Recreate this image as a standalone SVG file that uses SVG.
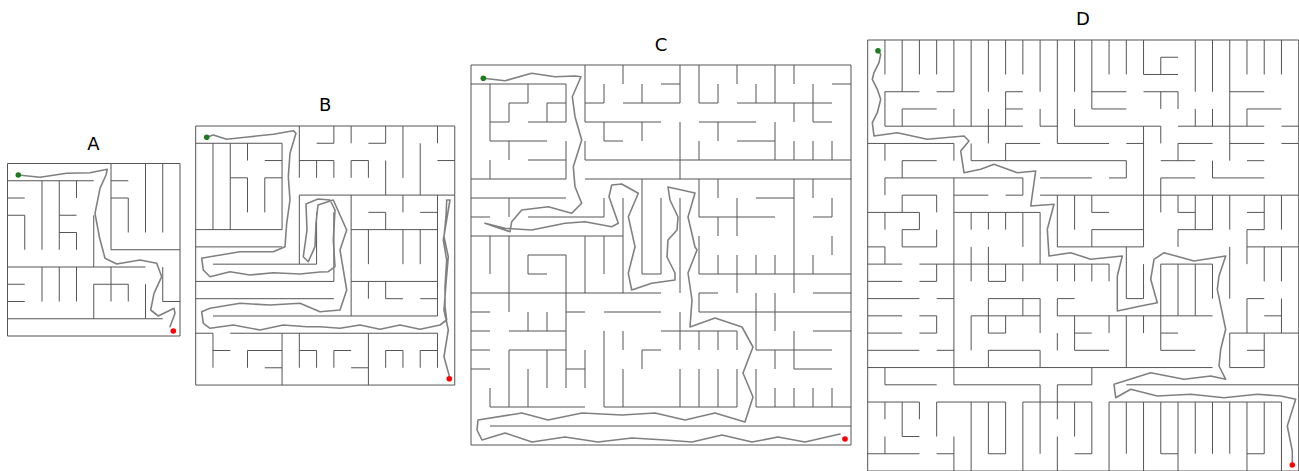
<svg xmlns="http://www.w3.org/2000/svg" width="1299" height="471" viewBox="0 0 1299 471">
<style>
.wall{fill:none;stroke:#555;stroke-width:1;vector-effect:non-scaling-stroke}
.sol{fill:none;stroke:#808080;stroke-width:1.6;stroke-linejoin:round;stroke-linecap:round}
.start{fill:#1e7b1e}
.goal{fill:#ff0000}
.lbl{font-family:"DejaVu Sans","Liberation Sans",sans-serif;font-size:18px;fill:#000;text-anchor:middle}
</style>
<rect width="1299" height="471" fill="#fff"/>
<g id="maze-A">
<text class="lbl" x="93.5" y="149.5">A</text>
<g transform="translate(7.5,163.5) scale(17.25)">
<rect class="wall" x="0" y="0" width="10" height="10"/>
<path class="wall" d="M0 1H5M6 1H7M6 0V5H10M8 0V4M9 0V4M6 2H7M7 2V4M0 2H1M0 3H1V5M2 1V5M3 1V5M3 3H4M3 4H4V5M4 1V2M5 3V6M0 6H8M9 6V8H10M0 7H1M0 8H1M2 6V8M3 6V8M4 6V8M5 7V9M5 7H6M6 6V8M6 7H7V8M8 7V9M0 9H9"/>
</g>
<polyline class="sol" points="18.3,175 40,177.3 66.7,173.3 90,172.7 100,170.7 107.3,169.3 106,175 100,188.3 95,213.3 99.3,236.7 105,258.3 116.7,264 140,260 156.7,263.3 161.7,276.7 154,293.3 150.7,310 158.3,316 174,308.3 175,313.3 170,326.7"/>
<circle class="start" cx="18.3" cy="175" r="2.8"/>
<circle class="goal" cx="173.3" cy="331" r="2.8"/>
</g>
<g id="maze-B">
<text class="lbl" x="325.3" y="110.5">B</text>
<g transform="translate(195.7,126) scale(17.27)">
<rect class="wall" x="0" y="0" width="15" height="15"/>
<path class="wall" d="M6 0V3M0 1H5M5 1V6H0M1 1V6M2 1V6M3 1V2M4 2H5M2 3H3V5M4 3H5M4 3V5M0 7H5M6 4V8M1 8H7M6 4H15M7 5V8M8 5V9M0 9H8M0 10H8M1 11H14M0 12H1V14M2 12H14M1 13H2M3 13H5M3 13V14M4 14H5M5 12V15M6 12V14M6 13H7M7 13V14M8 13H9M8 13V14M9 14H10M10 12V15M11 13V14M11 13H12M12 13V14M13 13H14M13 13V14M14 12V14M9 4V11M14 4V11M10 5H11M11 5V6M12 4V5M13 5H14M9 6H14M10 6V8M12 6V8M13 6V8M9 9H14M10 9V10M11 9V10M11 10H12M13 10H14M8 0V1M7 1H8M9 0V1M10 1H11M11 0V1M11 2V4M12 0V3M13 1V4M14 0V1M14 2H15M6 2H8M7 2V3M8 2V3M9 2H10M9 2V3M10 2V3"/>
</g>
<polyline class="sol" points="206.7,137.3 213.3,135 226.7,139.3 250,136.7 273.3,134.3 293.3,130.7 296,133.3 290,153.3 288.3,176.7 290,200 286.7,223.3 285,246.7 273.3,251.7 240,251.7 210,256.7 201.7,258.3 203.3,270 210,276.7 230,271.7 250,275 273.3,272.7 300,274 320,272 328.3,271.7 335,266.7 333.3,240 335,210 330,200 318,199 306,204 307,230 303.3,256.7 308.3,261.7 315,246.7 316,223 318,205 333.3,200 346.7,230 340,250 346.7,290 340,310 320,311.7 300,303.3 270,305 240,303.3 210,308.3 201.7,311.7 203.3,323.3 210,328.3 233.3,325 260,330 283.3,325 306.7,326.7 320,326.7 340,328.3 360,325 380,329.3 400,325 420,329.3 440,325 446.7,320 445,306.7 445,286.7 446.7,260 443.3,240 448.3,210 450,200 446.7,200 446,216.7 444,236.7 448.3,256.7 446,283.3 444,310 448.3,330 444,356.7 449.3,376"/>
<circle class="start" cx="206.7" cy="137.3" r="2.8"/>
<circle class="goal" cx="449.3" cy="378.7" r="2.8"/>
</g>
<g id="maze-C">
<text class="lbl" x="661" y="50.5">C</text>
<g transform="translate(471,65) scale(19)">
<rect class="wall" x="0" y="0" width="20" height="20"/>
<path class="wall" d="M0 1H5M5 1V3H3M5 4V6H0M1 1V4H4M1 5V6M3 1V2M2 2H3M2 2V3H1M4 2V3M4 2H5M2 4V5M3 5H5M6 0V3H10M6 2H7M7 1V2M8 0V1M8 2H10M9 1V2M7 3V4H8M9 3V4M6 4V5M6 5H20M11 0V2M10 1H11M10 2H11M12 0V2H13M13 1V2M14 0V1M15 1V2M16 0V2M14 2H19M17 0V1M17 2V3M19 1H20M18 1V3M12 3H15M18 3H19M11 3V6M12 4V5M13 3V4M14 4H16M16 3V5M17 4V5M18 4V5M19 4V5M6 6H20M0 7H5M2 7V8M0 8H1M3 8H7M7 7V8M8 7V12M9 6V11M0 9H8M10 7V11M11 7V12M12 6V8H16M13 6V7M15 7H17M14 7V9M13 8V9M17 6V10M18 6V7M18 8H19M19 7V8M1 9V11M2 9V12M3 10H5M3 10V11H4M5 10V12M6 9V12M7 9V11M9 11H10M12 9V11M12 11H20M13 10V11M14 10V11M15 10V11M16 10V11M17 10V11M18 10V11M19 9V10M14 11V12M17 11V12M0 12H10M12 12H13M18 12H20M2 12V13M12 12V13M0 13H1M5 13H6M7 13H10M12 13H20M3 13V14M4 13V14M0 14H1M2 14H5M5 12V17M7 14V18M8 14V15M10 14H14M18 14H20M15 12V15M16 12V14M0 15H1M2 15H5M9 15H10M15 15H19M2 15V18M4 15V17M6 15V17M9 15V16M11 13V15M12 14V15M13 14V15M14 14V15M0 16H1M5 16H6M17 14V16H19M16 15V16M3 16V18M1 17V18M8 16V18M11 16V18M12 16V18M13 16V18M14 16V18M15 16V18M16 17V18M17 17V18M18 17V18M19 17V18M1 18H6M7 18H14M15 18H20M1 19H20"/>
</g>
<polyline class="sol" points="483.3,78.3 505,80.7 531.7,73.3 555,76.7 575,76 581,76.7 572.3,96.7 575,116.7 581.7,140 573.3,166.7 575,186.7 581.7,203.3 571.7,213.3 548.3,206.7 521.7,210 511.7,221.7 510,231.7 495,226.7 485,223.3 505,228.3 531.7,230 565,223.3 585,221.7 611.7,226.7 618.3,223.3 609,196.7 611.7,185 621.7,184 638.3,193.3 628.3,216.7 635,246.7 628.3,273.3 631.7,290 651.7,283.3 675,280 675,273 667,257 668,240 677,230 678,217 670,200 668,187 695,193 688,217 695,247 697,250 688,273 692,300 690,327 715,318 742,327 753,347 743,373 753,397 745,422 715,413 685,420 655,413 622,415 582,413 548,420 522,413 478,420 477,430 482,440 505,433 532,442 565,437 598,442 632,438 665,440 692,442 722,435 752,442 778,437 805,442 840,434"/>
<circle class="start" cx="483.3" cy="78.3" r="2.8"/>
<circle class="goal" cx="845" cy="439" r="2.8"/>
</g>
<g id="maze-D">
<text class="lbl" x="1083" y="24.5">D</text>
<g transform="translate(867.7,40) scale(17.24)">
<rect class="wall" x="0" y="0" width="25" height="25"/>
<path class="wall" d="M1 0V2M1 3V5M1 6V7M1 8V9M1 10V11M1 12V13M1 19V20M1 21V22M1 23V24M2 0V3M2 4V5M2 7V8M2 9V10M2 11V12M2 21V23M3 0V2M3 10V11M3 21V22M4 0V2M4 9V10M4 11V12M4 13V14M4 16V17M4 21V23M5 0V3M5 4V5M5 6V7M5 8V20M5 23V25M6 0V5M6 6V7M6 10V11M6 12V14M6 16V18M6 21V25M7 0V3M7 4V6M7 10V11M7 12V14M7 15V17M7 18V19M7 21V24M8 0V2M8 3V5M8 6V7M8 10V11M8 13V14M8 16V17M8 21V24M9 0V2M9 8V9M9 10V12M9 13V14M9 15V16M9 21V25M10 0V3M10 4V5M10 10V13M10 15V17M10 18V19M10 20V24M11 0V6M11 9V12M11 13V14M11 15V16M11 17V18M11 20V22M11 23V25M12 0V3M12 4V5M12 9V11M12 13V14M12 16V18M12 21V23M13 0V4M13 9V10M13 11V12M13 13V14M13 19V20M13 21V24M14 0V2M14 13V14M14 16V17M14 21V25M15 0V2M15 7V8M15 12V15M15 16V19M15 21V24M16 0V2M16 5V12M16 13V15M16 16V17M16 21V25M17 1V2M17 3V4M17 5V6M17 8V10M17 13V18M17 21V24M18 3V4M18 6V7M18 9V10M18 11V12M18 13V16M18 21V25M19 0V3M19 4V5M19 9V11M19 13V16M19 21V24M20 0V3M20 4V5M20 7V8M20 9V11M20 13V15M20 21V24M21 0V7M21 9V11M21 12V15M21 17V19M21 21V24M22 0V2M22 4V5M22 11V13M22 15V17M22 21V25M23 0V2M23 9V11M23 12V14M23 17V19M23 21V24M24 0V2M24 9V11M24 12V14M24 15V17M24 21V25M17 1H18M16 2H18M1 3H3M4 3H5M8 3H9M13 3H15M16 3H18M21 3H23M2 4H4M8 4H9M13 4H15M22 4H24M1 5H9M10 5H11M12 5H17M18 5H23M24 5H25M0 6H5M8 6H10M11 6H14M15 6H16M18 6H20M21 6H23M24 6H25M2 7H4M6 7H15M17 7H19M22 7H23M1 8H9M10 8H13M14 8H15M17 8H19M20 8H23M2 9H4M5 9H7M8 9H9M10 9H25M0 10H3M5 10H10M13 10H14M18 10H19M22 10H23M2 11H3M13 11H16M18 11H20M22 11H23M0 12H1M2 12H4M11 12H16M22 12H25M0 13H2M3 13H14M17 13H20M0 14H2M3 14H4M7 14H8M0 15H3M4 15H5M7 15H10M11 15H12M15 15H16M22 15H23M0 16H2M3 16H4M6 16H10M11 16H20M23 16H24M0 17H2M3 17H4M7 17H8M12 17H13M17 17H18M21 17H25M0 18H3M4 18H5M7 18H10M12 18H14M17 18H19M22 18H23M0 19H20M21 19H23M1 20H4M5 20H10M11 20H13M15 20H25M0 21H3M4 21H8M9 21H13M14 21H24M2 23H3M0 24H3M4 24H5M7 24H8M12 24H13M17 24H18M22 24H23"/>
</g>
<polyline class="sol" points="878,50.7 880.7,54.3 879,62.7 874,72.7 872.3,79.3 877.3,89.3 880.7,99.3 877.3,112.7 872.3,122.7 874,136 897.3,132.7 927.3,139.3 964,136 969,141 960.7,151 964,172.7 980.7,169.3 994,164.3 1017.3,172.7 1035.7,171 1030.7,206 1054,204.3 1047.3,229.3 1049,256 1070.7,252.7 1090.7,259.3 1122.3,256 1117.3,276 1117.3,311 1140.7,306 1157.3,302.7 1150.7,279.3 1154,259.3 1164,252.7 1194,261 1225.7,256 1219,276 1217.3,289.3 1225.7,329.3 1220.7,349.3 1219,366 1225.7,379.3 1210.7,376 1184,379.3 1150.7,372.7 1114,384.3 1115.7,397.7 1130.7,389.3 1157.3,396 1190.7,394.3 1224,397.7 1257.3,394.3 1280.7,396 1295.7,399.3 1287.3,426 1292.3,451 1292.3,463"/>
<circle class="start" cx="878" cy="50.7" r="2.8"/>
<circle class="goal" cx="1292.3" cy="465" r="2.8"/>
</g>
</svg>
